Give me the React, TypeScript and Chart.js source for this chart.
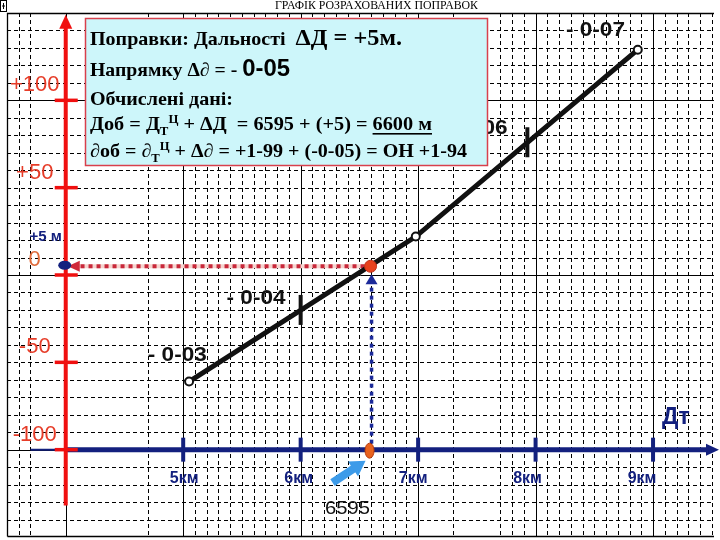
import { useEffect, useRef } from 'react';
import { Chart, registerables } from 'chart.js';

Chart.register(...registerables);

// ---- data ----
const lineKm = [5.05, 6.98, 8.87];
const lineCorr = [-61, 22, 129];
const markKm = [6.0, 7.93];
const markCorr = [-20, 76];
const corrLabels = ['- 0-03', '- 0-04', '- 0-06', '- 0-07'];
const corrLabelKm = [4.95, 5.62, 7.51, 8.51];
const corrLabelVal = [-46, -13, 84, 140];
const distTicks = [5, 6, 7, 8, 9];
const distTickLabels = ['5км', '6км', '7км', '8км', '9км'];
const corrTicks = [100, 50, 0, -50, -100];
const corrTickLabels = ['+100', '+50', '0', '-50', '-100'];
const targetKm = 6.595;
const targetLabel = '6595';
const rangeCorr = 5;
const rangeCorrLabel = '+5 м';
const hiddenMinorKm = [3.8, 3.9, 4.1, 4.2, 4.3, 4.4, 4.5, 4.6, 4.8, 4.9, 7.1, 7.2, 7.4, 7.5, 7.6];
const kmMin = 3.5;
const kmMax = 9.57;
const corrMin = -150;
const corrMax = 150;
const yAxisKm = 4.0;
const xAxisCorr = -100;
const yAxisTop = 149;
const yAxisBottom = -132;
const xAxisStartKm = 3.7;
const titleText = 'ГРАФІК РОЗРАХОВАНИХ ПОПРАВОК';

const NAVY = '#13207e';
const RED = '#f01010';
const LABEL_RED = '#e63c28';
const SERIF = '"Liberation Serif", "Times New Roman", serif';
const SANS = '"Liberation Sans", Arial, sans-serif';

type Run = { t: string; f: string; dy?: number; u?: boolean };

function drawRuns(ctx: CanvasRenderingContext2D, runs: Run[], x: number, y: number, targetW?: number) {
  ctx.save();
  let total = 0;
  for (const r of runs) {
    ctx.font = r.f;
    total += ctx.measureText(r.t).width;
  }
  const sx = targetW ? targetW / total : 1;
  ctx.translate(x, y);
  ctx.scale(sx, 1);
  ctx.textBaseline = 'alphabetic';
  ctx.textAlign = 'left';
  let cx = 0;
  for (const r of runs) {
    ctx.font = r.f;
    ctx.fillText(r.t, cx, r.dy || 0);
    const w = ctx.measureText(r.t).width;
    if (r.u) ctx.fillRect(cx, 3, w, 1.6);
    cx += w;
  }
  ctx.restore();
}

function fitText(ctx: CanvasRenderingContext2D, t: string, font: string, cx: number, cy: number, targetW: number) {
  ctx.save();
  ctx.font = font;
  const w = ctx.measureText(t).width;
  ctx.translate(cx, cy);
  ctx.scale(targetW / w, 1);
  ctx.textAlign = 'center';
  ctx.textBaseline = 'middle';
  ctx.fillText(t, 0, 0);
  ctx.restore();
}

const decor = {
  id: 'decor',
  beforeDatasetsDraw(chart: any) {
    const ctx: CanvasRenderingContext2D = chart.ctx;
    const xs = chart.scales.x;
    const ys = chart.scales.y;
    const ca = chart.chartArea;
    ctx.save();
    ctx.fillStyle = '#fff';
    ctx.fillRect(0, 0, chart.width, chart.height);

    // grid
    ctx.strokeStyle = '#000';
    ctx.lineWidth = 1;
    for (let k = Math.ceil(kmMin * 10) + 1; k <= Math.floor(kmMax * 10); k++) {
      if (hiddenMinorKm.some((h) => Math.abs(h * 10 - k) < 0.01)) continue;
      const major = k % 10 === 0;
      const px = Math.round(xs.getPixelForValue(k / 10)) + 0.5;
      ctx.setLineDash(major ? [] : [4, 3]);
      ctx.beginPath();
      ctx.moveTo(px, ca.top);
      ctx.lineTo(px, ca.bottom);
      ctx.stroke();
    }
    for (let k = corrMin / 10 + 1; k < corrMax / 10; k++) {
      const major = k % 10 === 0;
      const py = Math.round(ys.getPixelForValue(k * 10)) + 0.5;
      ctx.setLineDash(major ? [] : [4, 3]);
      ctx.beginPath();
      ctx.moveTo(ca.left, py);
      ctx.lineTo(ca.right - 6, py);
      ctx.stroke();
    }
    ctx.setLineDash([]);
    ctx.lineWidth = 1.3;
    ctx.beginPath();
    ctx.moveTo(ca.left + 0.5, ca.bottom - 0.5);
    ctx.lineTo(ca.left + 0.5, ca.top + 0.5);
    ctx.lineTo(ca.right - 6, ca.top + 0.5);
    ctx.moveTo(ca.left + 0.5, ca.bottom - 0.5);
    ctx.lineTo(ca.right - 6, ca.bottom - 0.5);
    ctx.stroke();

    const ax = xs.getPixelForValue(yAxisKm);
    const ay = ys.getPixelForValue(xAxisCorr);
    const tx = xs.getPixelForValue(targetKm);
    const ty = ys.getPixelForValue(rangeCorr);

    // blue x axis
    ctx.strokeStyle = NAVY;
    ctx.fillStyle = NAVY;
    ctx.lineWidth = 2;
    ctx.beginPath();
    ctx.moveTo(xs.getPixelForValue(xAxisStartKm), ay);
    ctx.lineTo(ax, ay);
    ctx.stroke();
    ctx.lineWidth = 5;
    ctx.beginPath();
    ctx.moveTo(ax, ay);
    ctx.lineTo(ca.right - 10, ay);
    ctx.stroke();
    ctx.beginPath();
    ctx.moveTo(ca.right - 1, ay);
    ctx.lineTo(ca.right - 14, ay - 6);
    ctx.lineTo(ca.right - 14, ay + 6);
    ctx.closePath();
    ctx.fill();
    ctx.lineWidth = 4;
    for (const v of distTicks) {
      const px = xs.getPixelForValue(v);
      ctx.beginPath();
      ctx.moveTo(px, ay - 12);
      ctx.lineTo(px, ay + 12);
      ctx.stroke();
    }

    // red y axis
    ctx.strokeStyle = RED;
    ctx.fillStyle = RED;
    ctx.lineWidth = 4;
    const topY = ys.getPixelForValue(yAxisTop);
    ctx.beginPath();
    ctx.moveTo(ax, ys.getPixelForValue(yAxisBottom));
    ctx.lineTo(ax, topY + 10);
    ctx.stroke();
    ctx.beginPath();
    ctx.moveTo(ax, topY);
    ctx.lineTo(ax - 6.5, topY + 14);
    ctx.lineTo(ax + 6.5, topY + 14);
    ctx.closePath();
    ctx.fill();
    ctx.lineWidth = 3.5;
    for (const v of corrTicks) {
      const py = ys.getPixelForValue(v);
      ctx.beginPath();
      ctx.moveTo(ax - 11, py);
      ctx.lineTo(ax + 12, py);
      ctx.stroke();
    }

    // red dotted horizontal (target -> axis)
    ctx.lineWidth = 4;
    ctx.strokeStyle = '#f5d4cf';
    ctx.beginPath();
    ctx.moveTo(ax + 12, ty);
    ctx.lineTo(tx - 4, ty);
    ctx.stroke();
    ctx.strokeStyle = '#c8283a';
    ctx.setLineDash([4, 4]);
    ctx.beginPath();
    ctx.moveTo(tx - 6, ty);
    ctx.lineTo(ax + 12, ty);
    ctx.stroke();
    ctx.setLineDash([]);
    ctx.fillStyle = '#d0283a';
    ctx.beginPath();
    ctx.moveTo(ax + 2, ty);
    ctx.lineTo(ax + 14, ty - 5.5);
    ctx.lineTo(ax + 14, ty + 5.5);
    ctx.closePath();
    ctx.fill();
    ctx.fillStyle = NAVY;
    ctx.beginPath();
    ctx.ellipse(ax - 1, ty - 1, 6.5, 4.5, 0, 0, Math.PI * 2);
    ctx.fill();

    // blue dotted vertical (axis -> target)
    ctx.strokeStyle = '#1c2a9a';
    ctx.lineWidth = 3.5;
    ctx.setLineDash([4, 4]);
    ctx.beginPath();
    ctx.moveTo(tx + 1, ay - 6);
    ctx.lineTo(tx + 1, ty + 18);
    ctx.stroke();
    ctx.setLineDash([]);
    ctx.fillStyle = '#1c2a9a';
    ctx.beginPath();
    ctx.moveTo(tx + 1, ty + 8);
    ctx.lineTo(tx - 5, ty + 18);
    ctx.lineTo(tx + 7, ty + 18);
    ctx.closePath();
    ctx.fill();
    ctx.restore();
  },
  afterDatasetsDraw(chart: any) {
    const ctx: CanvasRenderingContext2D = chart.ctx;
    const xs = chart.scales.x;
    const ys = chart.scales.y;
    const ca = chart.chartArea;
    const ax = xs.getPixelForValue(yAxisKm);
    const ay = ys.getPixelForValue(xAxisCorr);
    const tx = xs.getPixelForValue(targetKm);
    ctx.save();

    // orange marker on the distance axis
    ctx.fillStyle = '#e8621e';
    ctx.strokeStyle = '#b83c10';
    ctx.lineWidth = 1;
    ctx.beginPath();
    ctx.ellipse(tx - 1, ay + 1, 4.5, 7.5, 0, 0, Math.PI * 2);
    ctx.fill();
    ctx.stroke();

    // light-blue pointer arrow
    const x0 = tx - 38, y0 = ay + 33, x1 = tx - 5, y1 = ay + 11;
    const ang = Math.atan2(y1 - y0, x1 - x0);
    ctx.fillStyle = '#3d9be9';
    ctx.strokeStyle = '#3d9be9';
    ctx.lineWidth = 8;
    ctx.beginPath();
    ctx.moveTo(x0, y0);
    ctx.lineTo(x1 - Math.cos(ang) * 12, y1 - Math.sin(ang) * 12);
    ctx.stroke();
    ctx.beginPath();
    ctx.moveTo(x1, y1);
    ctx.lineTo(x1 - Math.cos(ang) * 15 + Math.sin(ang) * 9, y1 - Math.sin(ang) * 15 - Math.cos(ang) * 9);
    ctx.lineTo(x1 - Math.cos(ang) * 15 - Math.sin(ang) * 9, y1 - Math.sin(ang) * 15 + Math.cos(ang) * 9);
    ctx.closePath();
    ctx.fill();

    ctx.fillStyle = '#111';
    fitText(ctx, targetLabel, `19px ${SANS}`, tx - 23, ay + 59, 45);

    // distance labels (label row is slightly narrower than the tick row)
    ctx.fillStyle = NAVY;
    ctx.font = `bold 16px ${SANS}`;
    ctx.textAlign = 'center';
    ctx.textBaseline = 'middle';
    distTicks.forEach((v, i) => {
      const px = xs.getPixelForValue(v) + 1 - (v - distTicks[0]) * 3;
      ctx.fillText(distTickLabels[i], px, ay + 29);
    });
    ctx.font = `bold 23px ${SANS}`;
    ctx.textAlign = 'left';
    ctx.fillText('Дт', ca.right - 58, ys.getPixelForValue(xAxisCorr) - 32);
    ctx.font = `bold 15px ${SANS}`;
    ctx.textAlign = 'center';
    ctx.fillText(rangeCorrLabel, ax - 20, ys.getPixelForValue(rangeCorr) - 29);

    // correction axis labels
    ctx.font = `22px ${SANS}`;
    corrTicks.forEach((v, i) => {
      ctx.fillStyle = v === 0 ? '#e06a3a' : LABEL_RED;
      ctx.fillText(corrTickLabels[i], ax - 31, ys.getPixelForValue(v) - 15);
    });

    // correction labels along line
    ctx.fillStyle = '#111';
    corrLabels.forEach((t, i) => {
      fitText(ctx, t, `bold 21px ${SANS}`, xs.getPixelForValue(corrLabelKm[i]), ys.getPixelForValue(corrLabelVal[i]), 59);
    });

    // info box
    const bx = 85, by = 18, bw = 402, bh = 147;
    ctx.fillStyle = '#cdf6fa';
    ctx.fillRect(bx, by, bw, bh);
    ctx.strokeStyle = '#d8404c';
    ctx.lineWidth = 1.5;
    ctx.strokeRect(bx + 0.5, by + 0.5, bw, bh);
    ctx.fillStyle = '#000';
    const B = `bold 19px ${SERIF}`;
    const BI = `italic bold 19px ${SERIF}`;
    const SUB = `bold 12px ${SERIF}`;
    drawRuns(ctx, [
      { t: 'Поправки: Дальності  ', f: B },
      { t: 'ΔД = +5м.', f: `bold 23px ${SERIF}` },
    ], 90, 45, 312);
    drawRuns(ctx, [
      { t: 'Напрямку Δ', f: B },
      { t: '∂', f: BI },
      { t: ' = - ', f: B },
      { t: '0-05', f: `bold 23px ${SANS}` },
    ], 90, 76, 200);
    drawRuns(ctx, [{ t: 'Обчислені дані:', f: B }], 90, 105, 143);
    drawRuns(ctx, [
      { t: 'Доб = Д', f: B },
      { t: 'Т', f: SUB, dy: 5 },
      { t: 'Ц', f: SUB, dy: -7 },
      { t: ' + ΔД  = 6595 + (+5) = ', f: B },
      { t: '6600 м', f: B, u: true },
    ], 90, 130, 342);
    drawRuns(ctx, [
      { t: '∂', f: BI },
      { t: 'об = ', f: B },
      { t: '∂', f: BI },
      { t: 'Т', f: SUB, dy: 5 },
      { t: 'Ц', f: SUB, dy: -7 },
      { t: ' + Δ', f: B },
      { t: '∂', f: BI },
      { t: ' = +1-99 + (-0-05) = ОН +1-94', f: B },
    ], 90, 157, 377);

    // title
    ctx.fillStyle = '#000';
    drawRuns(ctx, [{ t: titleText, f: `13px ${SERIF}` }], 275, 9, 203);
    ctx.strokeStyle = '#000';
    ctx.lineWidth = 1;
    ctx.strokeRect(0.5, 0.5, 6, 11);
    ctx.beginPath();
    ctx.moveTo(2, 6);
    ctx.lineTo(5, 6);
    ctx.moveTo(3.5, 3);
    ctx.lineTo(3.5, 9);
    ctx.stroke();
    ctx.restore();
  },
};

export default function App() {
  const ref = useRef<HTMLCanvasElement>(null);
  useEffect(() => {
    document.body.style.margin = '0';
    const chart = new Chart(ref.current as HTMLCanvasElement, {
      type: 'scatter',
      data: {
        datasets: [
          {
            label: 'target',
            data: [{ x: targetKm, y: rangeCorr }],
            pointRadius: 6,
            pointBackgroundColor: '#e8421e',
            pointBorderColor: '#c0301a',
            pointBorderWidth: 1,
            showLine: false,
          },
          {
            label: 'marks',
            data: markKm.map((x, i) => ({ x, y: markCorr[i] })),
            pointStyle: 'line',
            rotation: 90,
            pointRadius: 15,
            pointBorderWidth: 4,
            pointBorderColor: '#111',
            showLine: false,
          },
          {
            label: 'corrections',
            data: lineKm.map((x, i) => ({ x, y: lineCorr[i] })),
            showLine: true,
            borderColor: '#111',
            borderWidth: 5,
            pointRadius: 4,
            pointBackgroundColor: '#fff',
            pointBorderColor: '#111',
            pointBorderWidth: 2,
            tension: 0,
          },
        ],
      } as any,
      options: {
        responsive: false,
        animation: false,
        devicePixelRatio: 1,
        layout: { autoPadding: false, padding: { left: 7, top: 13, right: 0, bottom: 3 } },
        plugins: { legend: { display: false }, tooltip: { enabled: false } },
        events: [],
        scales: {
          x: { type: 'linear', min: kmMin, max: kmMax, display: false },
          y: { type: 'linear', min: corrMin, max: corrMax, display: false },
        },
      } as any,
      plugins: [decor],
    });
    return () => chart.destroy();
  }, []);
  return (
    <div style={{ position: 'absolute', left: 0, top: 0, width: 720, height: 540, background: '#fff' }}>
      <canvas ref={ref} width={720} height={540} style={{ display: 'block', width: 720, height: 540 }} />
    </div>
  );
}
